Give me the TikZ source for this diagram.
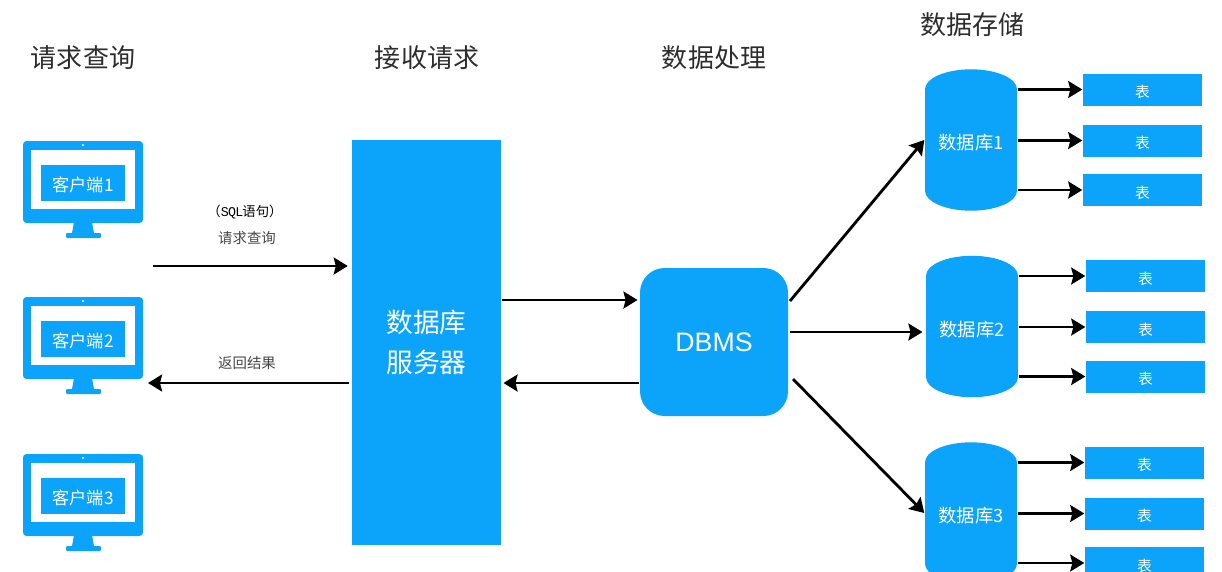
\documentclass[tikz,border=0pt]{standalone}
\usepackage{fontspec}
\setmainfont{Liberation Sans}
\setmonofont{Liberation Mono}[LetterSpace=-6]
\newfontfamily\cjk{Noto Sans CJK SC}
\usetikzlibrary{calc,positioning,arrows.meta}
\definecolor{boxblue}{RGB}{12,163,251}
\definecolor{headgray}{RGB}{45,45,45}
\definecolor{notegray}{RGB}{70,70,70}
\tikzset{
  link/.style={-{Stealth[length=4pt,width=4.8pt,inset=0.6pt]}, line width=0.8pt, black},
  heading/.style={font=\cjk\fontsize{7.4}{9}\selectfont, text=headgray},
  note/.style={font=\cjk\fontsize{4.1}{5}\selectfont, text=notegray},
  sqlnote/.style={font=\cjk\fontsize{3.8}{5}\selectfont, text=black},
  clientbox/.style={fill=boxblue, text=white, minimum width=0.84cm, minimum height=0.36cm,
    inner sep=0pt, text height=5pt, font=\cjk\fontsize{4.9}{6}\selectfont},
  tablebox/.style={fill=boxblue, text=white, minimum width=1.19cm, minimum height=0.32cm,
    inner sep=0pt, text height=5pt, font=\cjk\fontsize{4.2}{5}\selectfont},
  dbnode/.style={fill=boxblue, text=white, minimum width=0.92cm, minimum height=1.00cm,
    inner sep=0pt, text height=6pt, font=\cjk\fontsize{5.2}{6}\selectfont},
}
\begin{document}
\begin{tikzpicture}[x=1cm,y=-1cm]
  \useasboundingbox (0,0) rectangle (12.22,5.71);

  % Column headings
  \node[heading] (headclient) at (0.83,0.58) {请求查询};
  \node[heading] (headserver) at (4.27,0.58) {接收请求};
  \node[heading] (headdbms) at (7.14,0.58) {数据处理};
  \node[heading] (headstore) at (9.72,0.25) {数据存储};

  % Client monitors
  \foreach \i/\y in {1/0, 2/1.56, 3/3.13}{
    \begin{scope}[yshift=-\y cm]
      \fill[boxblue, rounded corners=1pt] (0.23,1.41) rectangle (1.43,2.23);
      \fill[white] (0.31,1.50) rectangle (1.35,2.09);
      \fill[white] (0.83,1.45) circle (0.012);
      \fill[boxblue] (0.74,2.22) -- (0.92,2.22) -- (0.94,2.33) -- (0.72,2.33) -- cycle;
      \fill[boxblue, rounded corners=0.3pt] (0.66,2.33) rectangle (1.01,2.38);
      \node[clientbox] (client\i) at (0.83,1.83) {客户端\i};
    \end{scope}
  }

  % Server and DBMS
  \node[fill=boxblue, text=white, minimum width=1.49cm, minimum height=4.05cm, inner sep=0pt,
    align=center, font=\cjk\fontsize{7.6}{11.2}\selectfont] (server) at (4.265,3.425) {数据库\\服务器};
  \node[fill=boxblue, text=white, rounded corners=7pt, minimum width=1.48cm, minimum height=1.48cm,
    inner sep=0pt, font=\fontsize{7.6}{10}\selectfont] (dbms) at (7.14,3.42) {DBMS};

  % Request and result between clients and server
  \coordinate (reqstart) at (1.53,2.66);
  \coordinate (retend) at (1.48,3.83);
  \draw[link, shorten >=1pt] (reqstart) -- (reqstart -| server.west);
  \draw[link, shorten <=0.6pt] (retend -| server.west) -- (retend);
  \node[sqlnote] (sqltext) at (2.45,2.12) {（\texttt{SQL}语句）};
  \node[note] (reqnote) at (2.47,2.38) {请求查询};
  \node[note] (retnote) at (2.47,3.63) {返回结果};

  % Server and DBMS links
  \coordinate (fwd) at (6.0,3.00);
  \coordinate (back) at (6.0,3.83);
  \draw[link, shorten >=0.5pt] (fwd -| server.east) -- (fwd -| dbms.west);
  \draw[link, shorten >=0.5pt] (back -| dbms.west) -- (back -| server.east);

  % Databases with their tables
  \foreach \d/\x/\y/\tx in {1/9.71/1.40/11.425, 2/9.72/3.265/11.455, 3/9.71/5.13/11.445}{
    \node[dbnode] (db\d) at (\x,\y) {数据库\d};
    \fill[boxblue] (db\d.north) ellipse (0.46 and 0.20);
    \fill[boxblue] (db\d.south) ellipse (0.46 and 0.20);
    \foreach \t/\dy in {1/-0.505, 2/0.005, 3/0.50}{
      \node[tablebox] (tab\d\t) at (\tx,\y+\dy) {表};
      \draw[link] (db\d.east |- tab\d\t.west) -- (tab\d\t.west);
    }
  }

  % DBMS out to the databases
  \coordinate (outa) at (7.90,3.01);
  \coordinate (outb) at (7.90,3.32);
  \coordinate (outc) at (7.93,3.79);
  \draw[link] (outa) -- (db1.west);
  \draw[link, shorten >=0.8pt] (outb) -- (outb -| db2.west);
  \draw[link] (outc) -- (db3.west);
\end{tikzpicture}
\end{document}
